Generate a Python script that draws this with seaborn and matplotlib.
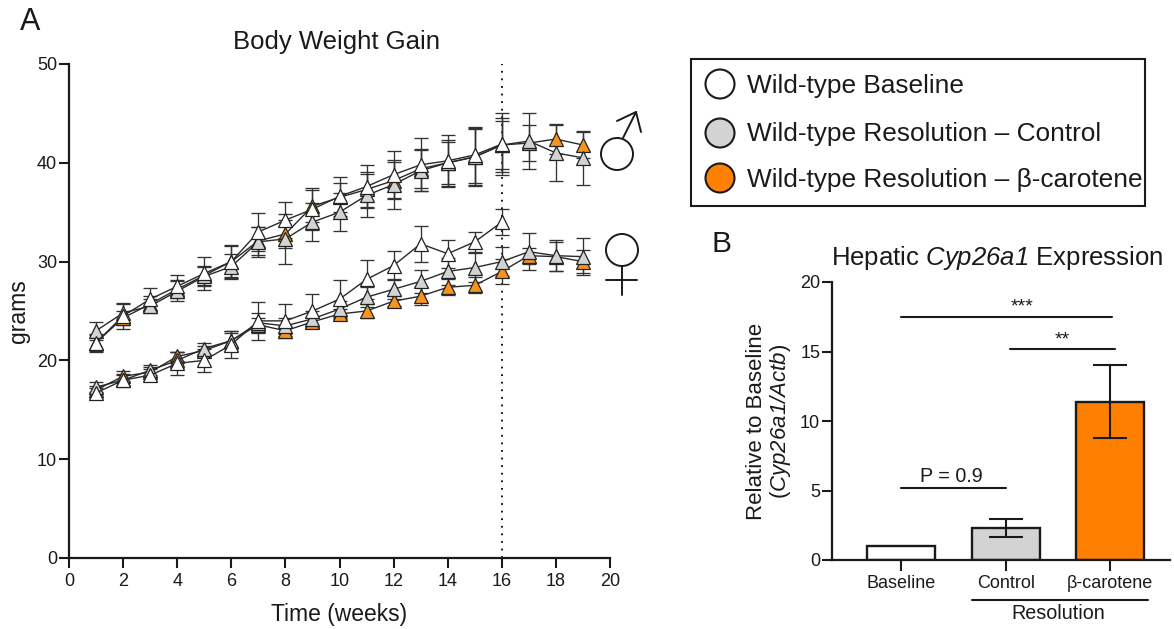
import numpy as np
import pandas as pd
import seaborn as sns
import matplotlib.pyplot as plt
from matplotlib.patches import Circle, Rectangle

# weekly body weight (grams)
weeks = list(range(1, 20))

male_white = [21.8, 24.5, 26.2, 27.5, 28.8, 30.0, 33.0, 34.2, 35.3, 36.6, 37.6, 38.8, 39.8, 40.2, 40.8, 41.9]
male_white_err = [0.9, 1.3, 1.1, 1.1, 1.7, 1.7, 1.9, 1.8, 2.1, 2.0, 2.2, 2.4, 2.7, 2.6, 2.8, 3.1]
male_grey = [23.0, 24.8, 25.5, 27.0, 28.5, 29.5, 32.0, 32.3, 34.0, 35.0, 36.7, 37.8, 39.2, 40.0, 40.6, 41.8, 42.2, 41.0, 40.5]
male_grey_err = [0.9, 0.9, 0.7, 1.0, 1.0, 1.3, 1.5, 2.5, 1.9, 1.9, 2.2, 2.5, 2.1, 2.1, 2.8, 2.7, 2.8, 2.8, 2.7]
male_orange = [21.8, 24.3, 25.7, 27.2, 28.6, 30.0, 32.1, 32.8, 35.6, 36.5, 37.3, 38.2, 39.4, 40.0, 40.6, 41.8, 42.0, 42.4, 41.8]
male_orange_err = [0.8, 0.7, 0.8, 0.9, 1.0, 1.6, 1.4, 1.4, 1.6, 1.5, 1.8, 1.9, 2.0, 2.3, 2.9, 2.4, 1.8, 1.5, 1.3]

female_white = [16.7, 18.0, 18.5, 19.7, 20.0, 21.6, 24.0, 24.0, 25.0, 26.2, 28.2, 29.6, 31.8, 30.8, 32.0, 34.0]
female_white_err = [0.5, 0.6, 0.6, 1.2, 1.2, 1.4, 1.9, 1.7, 1.7, 1.9, 2.0, 1.5, 1.8, 1.4, 1.0, 1.3]
female_grey = [17.3, 18.0, 19.0, 20.0, 21.2, 22.0, 23.8, 23.5, 24.2, 25.2, 26.4, 27.2, 28.0, 29.0, 29.4, 30.0, 31.0, 30.6, 30.5]
female_grey_err = [0.5, 0.5, 0.5, 0.8, 0.6, 1.0, 1.0, 0.8, 0.8, 0.8, 1.0, 1.0, 1.2, 1.4, 1.5, 1.5, 1.9, 1.6, 1.9]
female_orange = [17.0, 18.4, 18.8, 20.4, 21.0, 22.0, 23.6, 23.0, 23.9, 24.7, 25.0, 26.0, 26.5, 27.4, 27.6, 29.0, 30.6, 30.5, 30.0]
female_orange_err = [0.4, 0.5, 0.5, 0.5, 0.5, 0.8, 0.7, 0.5, 0.5, 0.5, 0.7, 0.5, 0.9, 0.8, 0.8, 1.3, 0.8, 1.5, 1.2]

bar_labels = ["Baseline", "Control", "β-carotene"]
bar_values = [1.0, 2.3, 11.4]
bar_errors = [0, 0.66, 2.6]

legend_labels = ["Wild-type Baseline", "Wild-type Resolution – Control", "Wild-type Resolution – β-carotene"]

sns.set_theme(style="ticks")
plt.rcParams["font.family"] = ["Liberation Sans", "DejaVu Sans"]
plt.rcParams["mathtext.fontset"] = "custom"
# math is only used for the italic gene names; rm is italic too so the digits lean
plt.rcParams["mathtext.it"] = "Liberation Sans:italic"
plt.rcParams["mathtext.rm"] = "Liberation Sans:italic"

W, H = 1174, 629
fig = plt.figure(figsize=(W / 100, H / 100), dpi=100)
ink = "#1a1a1a"
white, grey, orange = "#ffffff", "#d3d3d3", "#f7941d"


def px_axes(x0, x1, y_top, y_bot):
    return fig.add_axes([x0 / W, 1 - y_bot / H, (x1 - x0) / W, (y_bot - y_top) / H])


# === panel A ===
ax = px_axes(69, 610, 64, 558)

series = [
    (male_orange, male_orange_err, orange),
    (male_grey, male_grey_err, grey),
    (male_white, male_white_err, white),
    (female_orange, female_orange_err, orange),
    (female_grey, female_grey_err, grey),
    (female_white, female_white_err, white),
]
for i, (vals, errs, col) in enumerate(series):
    wk = weeks[:len(vals)]
    ax.errorbar(wk, vals, yerr=errs, fmt="none", ecolor="#333333", elinewidth=0.95,
                capsize=4.8, capthick=0.95, zorder=2 + i * 0.1)
    sns.lineplot(x=wk, y=vals, ax=ax, color="#2a2a2a", linewidth=1.0, marker="^", markersize=9.5,
                 markerfacecolor=col, markeredgecolor="#222222", markeredgewidth=0.9,
                 errorbar=None, zorder=3 + i * 0.1)

ax.axvline(16, color="black", linestyle=(0, (1, 3.2)), linewidth=1.3, zorder=1)
ax.set_xlim(0, 20)
ax.set_ylim(0, 50)
ax.set_xticks(range(0, 21, 2))
ax.set_yticks(range(0, 51, 10))
ax.tick_params(axis="y", labelsize=13, width=1.5, length=7, color=ink, labelcolor=ink, pad=1.5)
ax.tick_params(axis="x", labelsize=13, width=1.5, length=7, color=ink, labelcolor=ink, pad=4)
ax.set_xlabel("Time (weeks)", fontsize=16.5, color=ink, labelpad=9)
ax.set_ylabel("grams", fontsize=16.5, color=ink, labelpad=5)
ax.set_title("Body Weight Gain", fontsize=18.5, color=ink, pad=11, x=0.495)
sns.despine(ax=ax)
for s in ["left", "bottom"]:
    ax.spines[s].set_linewidth(1.6)
    ax.spines[s].set_color(ink)

# === panel B ===
ax2 = px_axes(832, 1170, 282, 560)
bar_df = pd.DataFrame({"group": bar_labels, "value": bar_values})
sns.barplot(data=bar_df, x="group", y="value", hue="group", ax=ax2, legend=False, width=0.65,
            palette=[white, grey, "#ff8000"], edgecolor=ink, linewidth=1.7, saturation=1)
for i, (v, e) in enumerate(zip(bar_values, bar_errors)):
    if e > 0:
        ax2.errorbar(i, v, yerr=e, fmt="none", ecolor=ink, elinewidth=1.5, capsize=12.5, capthick=1.5, zorder=5)

ax2.set_xlim(-0.66, 2.57)
ax2.set_ylim(0, 20)
ax2.set_yticks(range(0, 21, 5))
ax2.set_xlabel("")
ax2.set_ylabel("Relative to Baseline\n($\\mathit{Cyp26a1/Actb}$)", fontsize=16, color=ink, labelpad=5, linespacing=1.05)
ax2.tick_params(axis="y", labelsize=13, width=1.5, length=7, color=ink, labelcolor=ink, pad=1.5)
ax2.tick_params(axis="x", labelsize=13, width=1.5, length=8, color=ink, labelcolor=ink, pad=3)
ax2.set_title("Hepatic $\\mathit{Cyp26a1}$ Expression", fontsize=18.5, color=ink, pad=12, x=0.49)
sns.despine(ax=ax2)
for s in ["left", "bottom"]:
    ax2.spines[s].set_linewidth(1.6)
    ax2.spines[s].set_color(ink)

# significance brackets
ax2.plot([0, 2.02], [17.5, 17.5], color=ink, lw=1.5, clip_on=False)
ax2.plot([1.04, 2.04], [15.2, 15.2], color=ink, lw=1.5, clip_on=False)
ax2.plot([0, 1], [5.15, 5.15], color=ink, lw=1.5, clip_on=False)
ax2.text(1.16, 17.6, "***", ha="center", va="bottom", fontsize=14, color=ink)
ax2.text(1.54, 15.25, "**", ha="center", va="bottom", fontsize=14, color=ink)
ax2.text(0.48, 5.3, "P = 0.9", ha="center", va="bottom", fontsize=14.2, color=ink)
ax2.plot([0.68, 2.36], [-2.88, -2.88], color=ink, lw=1.5, clip_on=False)
ax2.text(1.5, -3.2, "Resolution", ha="center", va="top", fontsize=14.2, color=ink)

# === overlay in pixel coordinates: legend box, sex symbols, panel letters ===
ov = fig.add_axes([0, 0, 1, 1], zorder=10)
ov.set_xlim(0, W)
ov.set_ylim(H, 0)
ov.axis("off")
ov.patch.set_alpha(0)

ov.add_patch(Rectangle((691, 59), 454, 147, fill=False, edgecolor=ink, linewidth=1.5))
for y, col, lab in zip([84, 133, 178], [white, grey, "#ff8000"], legend_labels):
    ov.add_patch(Circle((720, y), 14.5, facecolor=col, edgecolor=ink, linewidth=1.5))
    ov.text(747, y + 1.5, lab, fontsize=18.9, color=ink, va="center", ha="left")

# male symbol
ov.add_patch(Circle((617, 154), 16, fill=False, edgecolor=ink, linewidth=1.4))
ov.plot([623, 636], [138, 112], color=ink, lw=1.4)
ov.plot([617, 636, 641], [121, 112, 132], color=ink, lw=1.4)
# female symbol
ov.add_patch(Circle((622, 250), 16, fill=False, edgecolor=ink, linewidth=1.4))
ov.plot([622, 622], [266, 295], color=ink, lw=1.4)
ov.plot([606, 637], [280, 280], color=ink, lw=1.4)

ov.text(20, 22, "A", fontsize=22, color=ink, va="center", ha="left")
ov.text(712, 244, "B", fontsize=21.5, color=ink, va="center", ha="left")

fig.savefig("out.png", dpi=100)
